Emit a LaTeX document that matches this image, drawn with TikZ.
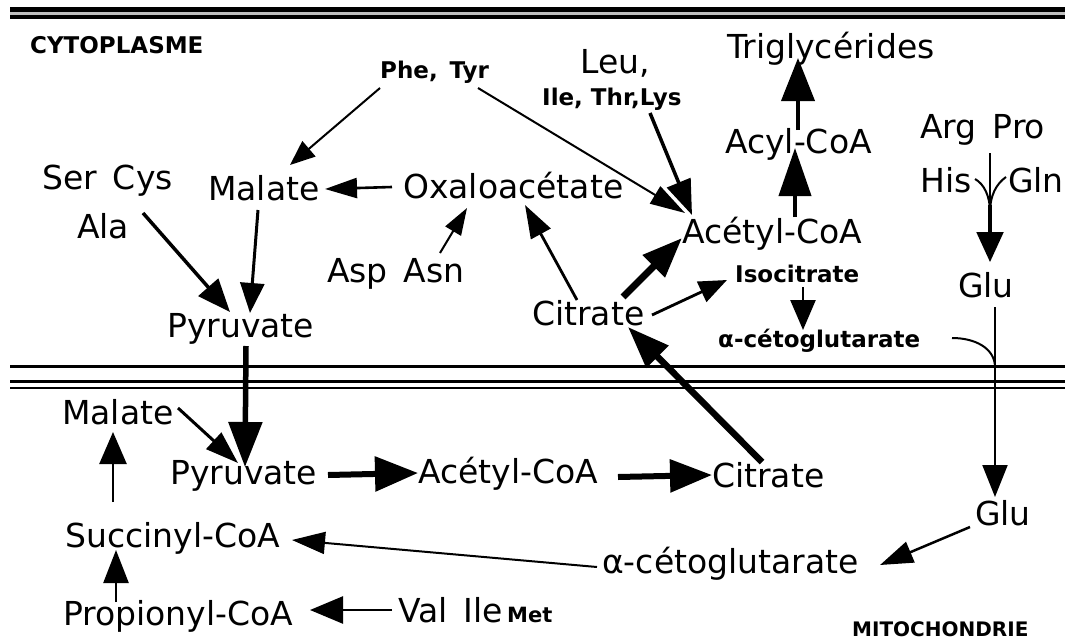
\documentclass[tikz,border=0pt]{standalone}
\usepackage{fontspec}
\setmainfont{DejaVu Sans}
\usetikzlibrary{arrows.meta,calc}
\tikzset{
  lab/.style={inner sep=0pt, anchor=base west, font=\fontsize{33}{36}\selectfont},
  blab/.style={inner sep=0pt, anchor=base west, font=\bfseries\fontsize{23}{26}\selectfont},
  arr/.style n args={3}{-{Triangle[length=#2pt,width=#3pt]}, line width=#1pt},
  memb/.style={line width=3pt},
}
\begin{document}
\begin{tikzpicture}[x=1pt,y=-1pt]
\useasboundingbox (0,0) rectangle (1065,640);
% membranes
\fill[black] (10,7) rectangle (1065,19);
\fill[black!25] (10,11.5) rectangle (1065,15);
\draw[memb] (10,366) -- (1065,366);
\draw[memb] (10,381) -- (1065,381);
\draw[line width=2.6pt] (10,388) -- (1065,388);
% labels
\node[blab] (cyto) at (30,53) {CYTOPLASME};
\node[blab] (phe) at (380,78) {Phe,\, Tyr};
\node[lab] (leu) at (580,73) {Leu,};
\node[blab] (ile) at (542,105) {Ile, Thr,Lys};
\node[lab] (trig) at (727,58) {Triglycérides};
\node[lab] (acyl) at (725,153) {Acyl-CoA};
\node[lab] (arg) at (920,138) {Arg\, Pro};
\node[lab] (his) at (920,192) {His};
\node[lab] (gln) at (1008,192) {Gln};
\node[lab] (gluU) at (958,297) {Glu};
\node[lab] (ser) at (42,189) {Ser\, Cys};
\node[lab] (ala) at (77,238) {Ala};
\node[lab] (malU) at (208,200) {Malate};
\node[lab] (oxa) at (403,198) {Oxaloacétate};
\node[lab] (asp) at (327,282) {Asp\, Asn};
\node[lab] (pyrU) at (167,337) {Pyruvate};
\node[lab] (citU) at (532,325) {Citrate};
\node[lab] (acetU) at (682,243) {Acétyl-CoA};
\node[blab] (iso) at (735,282) {Isocitrate};
\node[blab] (akgU) at (718,347) {α-cétoglutarate};
\node[lab] (malL) at (62,424) {Malate};
\node[lab] (pyrL) at (170,484) {Pyruvate};
\node[lab] (acetL) at (418,483) {Acétyl-CoA};
\node[lab] (citL) at (712,487) {Citrate};
\node[lab] (gluL) at (975,525) {Glu};
\node[lab] (akgL) at (602,573) {α-cétoglutarate};
\node[lab] (succ) at (65,547) {Succinyl-CoA};
\node[lab] (prop) at (63,625) {Propionyl-CoA};
\node[lab] (val) at (398,622) {Val\, Ile};
\node[blab, font=\bfseries\fontsize{21}{24}\selectfont] (met) at (507,622) {Met};
\node[blab, font=\bfseries\fontsize{20}{23}\selectfont] (mito) at (852,636) {MITOCHONDRIE};
% arrows cytoplasm
\draw[arr={2}{25}{20}] ($(phe.base west)+(0,10)$) -- ($(malU.base west)+(82,-35)$);
\draw[arr={2}{35}{20}] ($(phe.base west)+(98,10)$) -- ($(acetU.base west)+(3,-30)$);
\draw[arr={3.5}{35}{25}] ($(ile.base west)+(108,8)$) -- ($(acetU.base west)+(10,-28)$);
\draw[arr={2.6}{32}{20}] ($(oxa.base west)+(-11,-11)$) -- ($(malU.base west)+(117,-11)$);
\draw[arr={3}{30}{24}] ($(malU.base west)+(50,10)$) -- ($(pyrU.base west)+(83,-24)$);
\draw[arr={3.5}{33}{26}] ($(ala.base west)+(66,-25)$) -- ($(pyrU.base west)+(63,-25)$);
\draw[arr={2}{27}{18}] ($(asp.base west)+(113,-29)$) -- ($(oxa.base west)+(64,10)$);
\draw[arr={2.8}{33}{22}] ($(citU.base west)+(45,-25)$) -- ($(oxa.base west)+(122,7)$);
\draw[arr={7}{40}{30}] ($(citU.base west)+(91,-28)$) -- ($(acetU.base west)+(0,-5)$);
\draw[arr={2.8}{28}{22}] ($(citU.base west)+(120,-10)$) -- ($(iso.base west)+(-8,-2)$);
\draw[arr={2.5}{30}{25}] ($(iso.base west)+(68,5)$) -- ($(akgU.base west)+(85,-17)$);
\draw[arr={4}{48}{32}] ($(acetU.base west)+(113,-26)$) -- ($(acyl.base west)+(70,-5)$);
\draw[arr={4}{43}{33}] ($(acyl.base west)+(73,-23)$) -- ($(trig.base west)+(71,0)$);
% Arg Pro His Gln -> Glu
\draw[arr={2}{30}{27}] ($(arg.base west)+(70,15)$) -- ($(gluU.base west)+(32,-35)$);
\draw[line width=2pt] ($(his.base west)+(55,-13)$) .. controls (984,184) and (990,196) .. (990,212);
\draw[line width=2pt] ($(gln.base west)+(-2,-15)$) .. controls (996,184) and (990,196) .. (990,212);
\draw[line width=4pt] (990,205) -- (990,235);
% Glu down through membrane
\draw[arr={2}{32}{25}] ($(gluU.base west)+(37,10)$) -- ($(gluL.base west)+(20,-28)$);
\draw[line width=2pt] ($(akgU.base west)+(234,-9)$) .. controls (975,338) and (994,348) .. (995,366);
% transport arrows
\draw[arr={5.5}{45}{33}] ($(pyrU.base west)+(79,9)$) -- ($(pyrL.base west)+(75,-17)$);
\draw[arr={6.5}{42}{30}] ($(citL.base west)+(50,-25)$) -- ($(citU.base west)+(96,2)$);
% mitochondria
\draw[arr={3}{33}{22}] ($(malL.base west)+(116,-16)$) -- ($(pyrL.base west)+(68,-21)$);
\draw[arr={6}{43}{34}] ($(pyrL.base west)+(158,-9)$) -- ($(acetL.base west)+(0,-10)$);
\draw[arr={6}{42}{32}] ($(acetL.base west)+(200,-6)$) -- ($(citL.base west)+(0,-12)$);
\draw[arr={2.5}{33}{22}] ($(gluL.base west)+(-5,2)$) -- ($(akgL.base west)+(278,-8)$);
\draw[arr={2}{33}{22}] ($(akgL.base west)+(-5,-6)$) -- ($(succ.base west)+(227,-7)$);
\draw[arr={2.5}{32}{27}] ($(succ.base west)+(48,-45)$) -- ($(malL.base west)+(51,8)$);
\draw[arr={2.5}{33}{25}] ($(prop.base west)+(53,-23)$) -- ($(succ.base west)+(51,3)$);
\draw[arr={2.5}{33}{27}] ($(val.base west)+(-6,-12)$) -- ($(prop.base west)+(247,-15)$);
\end{tikzpicture}
\end{document}
